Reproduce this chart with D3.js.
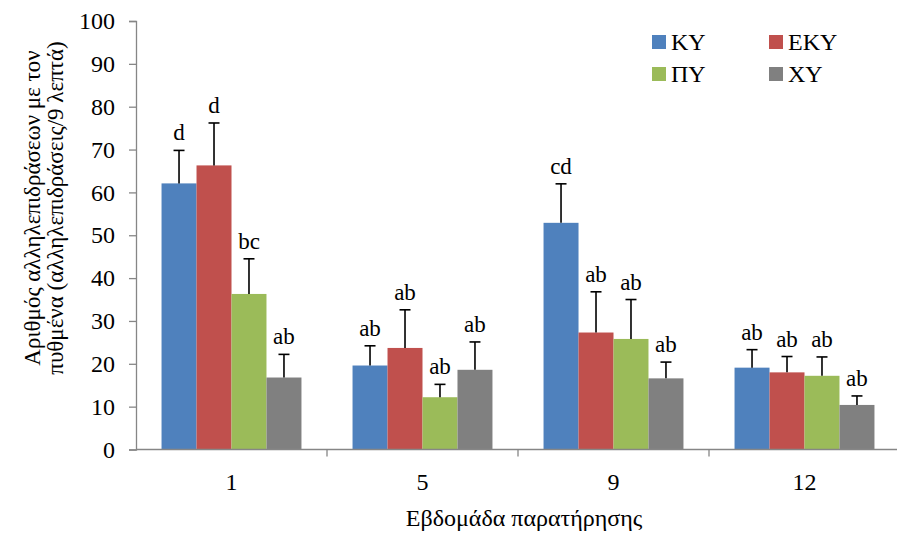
<!DOCTYPE html>
<html>
<head>
<meta charset="utf-8">
<script src="https://cdn.jsdelivr.net/npm/d3@7"></script>
<style>
  html, body { margin: 0; padding: 0; background: #fff; }
</style>
</head>
<body>
<svg id="chart" width="897" height="535"></svg>
<script>
// ---- data ----
const weeks = ["1", "5", "9", "12"];
const series = ["ΚΥ", "ΕΚΥ", "ΠΥ", "ΧΥ"];
const colors = ["#4F81BD", "#C0504D", "#9BBB59", "#808080"];
const valKY  = [62.1, 19.6, 52.9, 19.1];
const valEKY = [66.3, 23.7, 27.3, 18.0];
const valPY  = [36.3, 12.2, 25.8, 17.2];
const valXY  = [16.8, 18.6, 16.6, 10.4];
const errKY  = [7.7, 4.6, 9.1, 4.2];
const errEKY = [9.9, 8.9, 9.5, 3.7];
const errPY  = [8.2, 3.0, 9.2, 4.4];
const errXY  = [5.4, 6.5, 3.8, 2.1];
const letKY  = ["d", "ab", "cd", "ab"];
const letEKY = ["d", "ab", "ab", "ab"];
const letPY  = ["bc", "ab", "ab", "ab"];
const letXY  = ["ab", "ab", "ab", "ab"];
const yTicks = [0, 10, 20, 30, 40, 50, 60, 70, 80, 90, 100];
const yTitle = ["Αριθμός αλληλεπιδράσεων με τον", "πυθμένα (αλληλεπιδράσεις/9 λεπτά)"];
const xTitle = "Εβδομάδα παρατήρησης";

const values = [valKY, valEKY, valPY, valXY];
const errors = [errKY, errEKY, errPY, errXY];
const letters = [letKY, letEKY, letPY, letXY];

const rows = [];
weeks.forEach((w, i) => series.forEach((s, j) => rows.push({
  week: w, s, j, v: values[j][i], e: errors[j][i], lab: letters[j][i]
})));

// ---- layout ----
const svg = d3.select("#chart");
const pL = 136, pR = 900, pT = 21, pB = 449.5;
const axisColor = "#868686";
const FONT = "Liberation Serif, Tinos, DejaVu Serif, Noto Serif, Times, serif";

const x0 = d3.scaleBand().domain(weeks).range([pL, pR]).padding(0);
const x1 = d3.scaleBand().domain(series).range([0, x0.bandwidth()]).paddingInner(0).paddingOuter(0.73);
const y = d3.scaleLinear().domain([0, 100]).range([pB, pT]);

// bars
svg.append("g").selectAll("rect").data(rows).join("rect")
  .attr("x", d => x0(d.week) + x1(d.s))
  .attr("width", x1.bandwidth())
  .attr("y", d => y(d.v))
  .attr("height", d => y(0) - y(d.v))
  .attr("fill", d => colors[d.j]);

// error bars (upper only)
const eg = svg.append("g").attr("stroke", "#000").attr("stroke-width", 1.6);
rows.forEach(d => {
  const cx = x0(d.week) + x1(d.s) + x1.bandwidth() / 2;
  eg.append("line").attr("x1", cx).attr("x2", cx).attr("y1", y(d.v)).attr("y2", y(d.v + d.e));
  eg.append("line").attr("x1", cx - 5.5).attr("x2", cx + 5.5).attr("y1", y(d.v + d.e)).attr("y2", y(d.v + d.e));
});

// letters
svg.append("g").selectAll("text").data(rows).join("text")
  .attr("x", d => x0(d.week) + x1(d.s) + x1.bandwidth() / 2)
  .attr("y", d => y(d.v + d.e) - 10)
  .attr("text-anchor", "middle")
  .style("font-family", FONT)
  .attr("font-size", 23)
  .attr("fill", "#000")
  .text(d => d.lab);

// y axis
const yAxis = svg.append("g").attr("transform", `translate(${pL},0)`)
  .call(d3.axisLeft(y).tickValues(yTicks).tickSize(7).tickPadding(14));
yAxis.select(".domain").attr("stroke", axisColor).attr("stroke-width", 1.3);
yAxis.selectAll(".tick line").attr("stroke", axisColor).attr("stroke-width", 1.3);
yAxis.selectAll(".tick text").attr("font-size", 24).attr("fill", "#000").style("font-family", FONT);

// x axis
const xAxisG = svg.append("g").attr("transform", `translate(0,${pB})`);
xAxisG.append("line").attr("x1", pL).attr("x2", pR).attr("stroke", axisColor).attr("stroke-width", 1.3);
xAxisG.selectAll("line.tk").data(weeks.slice(1)).join("line").attr("class", "tk")
  .attr("x1", d => x0(d)).attr("x2", d => x0(d)).attr("y1", 0).attr("y2", 7)
  .attr("stroke", axisColor).attr("stroke-width", 1.3);
xAxisG.selectAll("text").data(weeks).join("text")
  .attr("x", d => x0(d) + x0.bandwidth() / 2)
  .attr("y", 40)
  .attr("text-anchor", "middle")
  .style("font-family", FONT)
  .attr("font-size", 24)
  .text(d => d);

// axis titles
svg.append("text").attr("x", 524).attr("y", 526).attr("text-anchor", "middle")
  .style("font-family", FONT).attr("font-size", 24).text(xTitle);
const yt = svg.append("text").attr("transform", "translate(0,208) rotate(-90)")
  .attr("text-anchor", "middle").style("font-family", FONT).attr("font-size", 23);
yTitle.forEach((t, i) => yt.append("tspan").attr("x", 0).attr("y", 40 + i * 23).text(t));

// legend
const legPos = [[652, 42], [769, 42], [652, 74], [769, 74]];
series.forEach((s, j) => {
  const g = svg.append("g").attr("transform", `translate(${legPos[j][0]},${legPos[j][1]})`);
  g.append("rect").attr("x", 0).attr("y", -7).attr("width", 14).attr("height", 14).attr("fill", colors[j]);
  g.append("text").attr("x", 19).attr("y", 8).style("font-family", FONT).attr("font-size", 24).text(s);
});
</script>
</body>
</html>
